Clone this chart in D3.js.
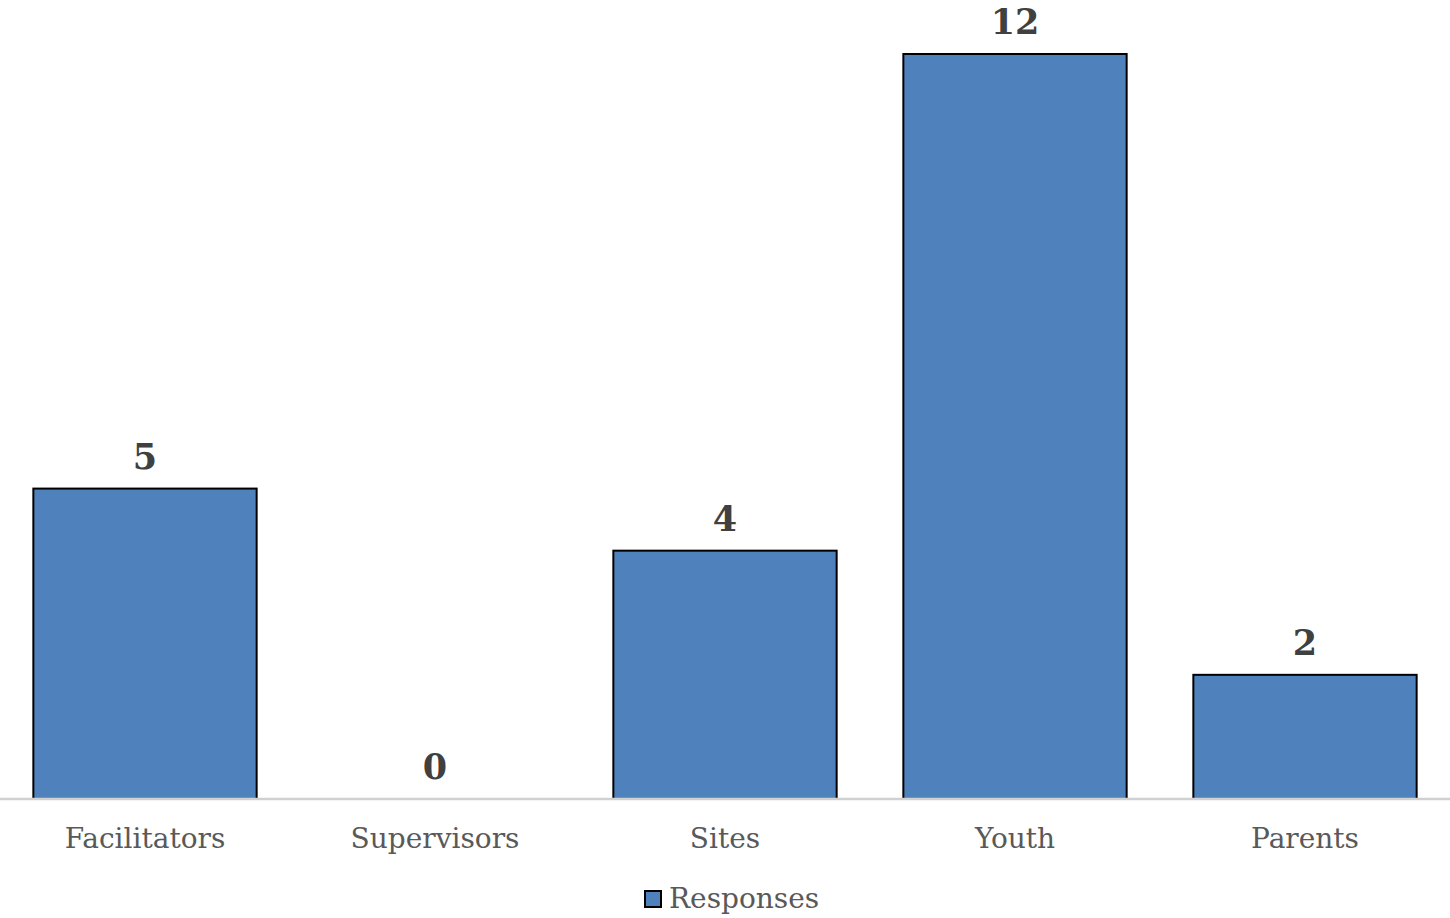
<!DOCTYPE html>
<html><head><meta charset="utf-8">
<script src="https://cdn.jsdelivr.net/npm/d3@7"></script>
<style>body{margin:0;background:#fff;} svg{display:block;}</style>
</head><body>
<svg id="chart" width="1450" height="918"></svg>
<script>
const categories = ["Facilitators", "Supervisors", "Sites", "Youth", "Parents"];
const responses = [5, 0, 4, 12, 2];
const seriesName = "Responses";

const W = 1450, H = 918;
const svg = d3.select("#chart");
const baseY = 799, topY = 54;
const x = d3.scaleBand().domain(categories).range([0, W]).paddingInner(0.23).paddingOuter(0.115);
const y = d3.scaleLinear().domain([0, 12]).range([baseY, topY]);
const font = "'DejaVu Serif', 'Liberation Serif', serif";

svg.selectAll("rect.bar").data(categories).join("rect")
  .attr("class", "bar")
  .attr("x", d => x(d))
  .attr("y", (d, i) => y(responses[i]))
  .attr("width", x.bandwidth())
  .attr("height", (d, i) => baseY - y(responses[i]))
  .attr("fill", "#4f81bd")
  .attr("stroke", (d, i) => responses[i] > 0 ? "#000" : "none")
  .attr("stroke-width", 2);

const axis = svg.append("g").attr("transform", `translate(0,${baseY})`)
  .call(d3.axisBottom(x).tickSize(0).tickPadding(0));
axis.select(".domain").attr("stroke", "#d0d0d0").attr("stroke-width", 2.5).attr("d", `M0,0H${W}`);
axis.selectAll(".tick text").attr("y", 49).attr("dy", 0)
  .attr("font-family", font).attr("font-size", 28).attr("fill", "#595959");

svg.selectAll("text.val").data(categories).join("text")
  .attr("class", "val")
  .attr("x", d => x(d) + x.bandwidth() / 2)
  .attr("y", (d, i) => y(responses[i]) - 20)
  .attr("text-anchor", "middle")
  .attr("font-family", font).attr("font-weight", "bold").attr("font-size", 35)
  .attr("fill", "#404040")
  .text((d, i) => responses[i]);

const lg = svg.append("g");
lg.append("rect").attr("x", 645).attr("y", 891).attr("width", 16).attr("height", 16)
  .attr("fill", "#4f81bd").attr("stroke", "#000").attr("stroke-width", 2);
lg.append("text").attr("x", 669).attr("y", 908)
  .attr("font-family", font).attr("font-size", 28).attr("fill", "#595959").text(seriesName);
</script>
</body></html>
